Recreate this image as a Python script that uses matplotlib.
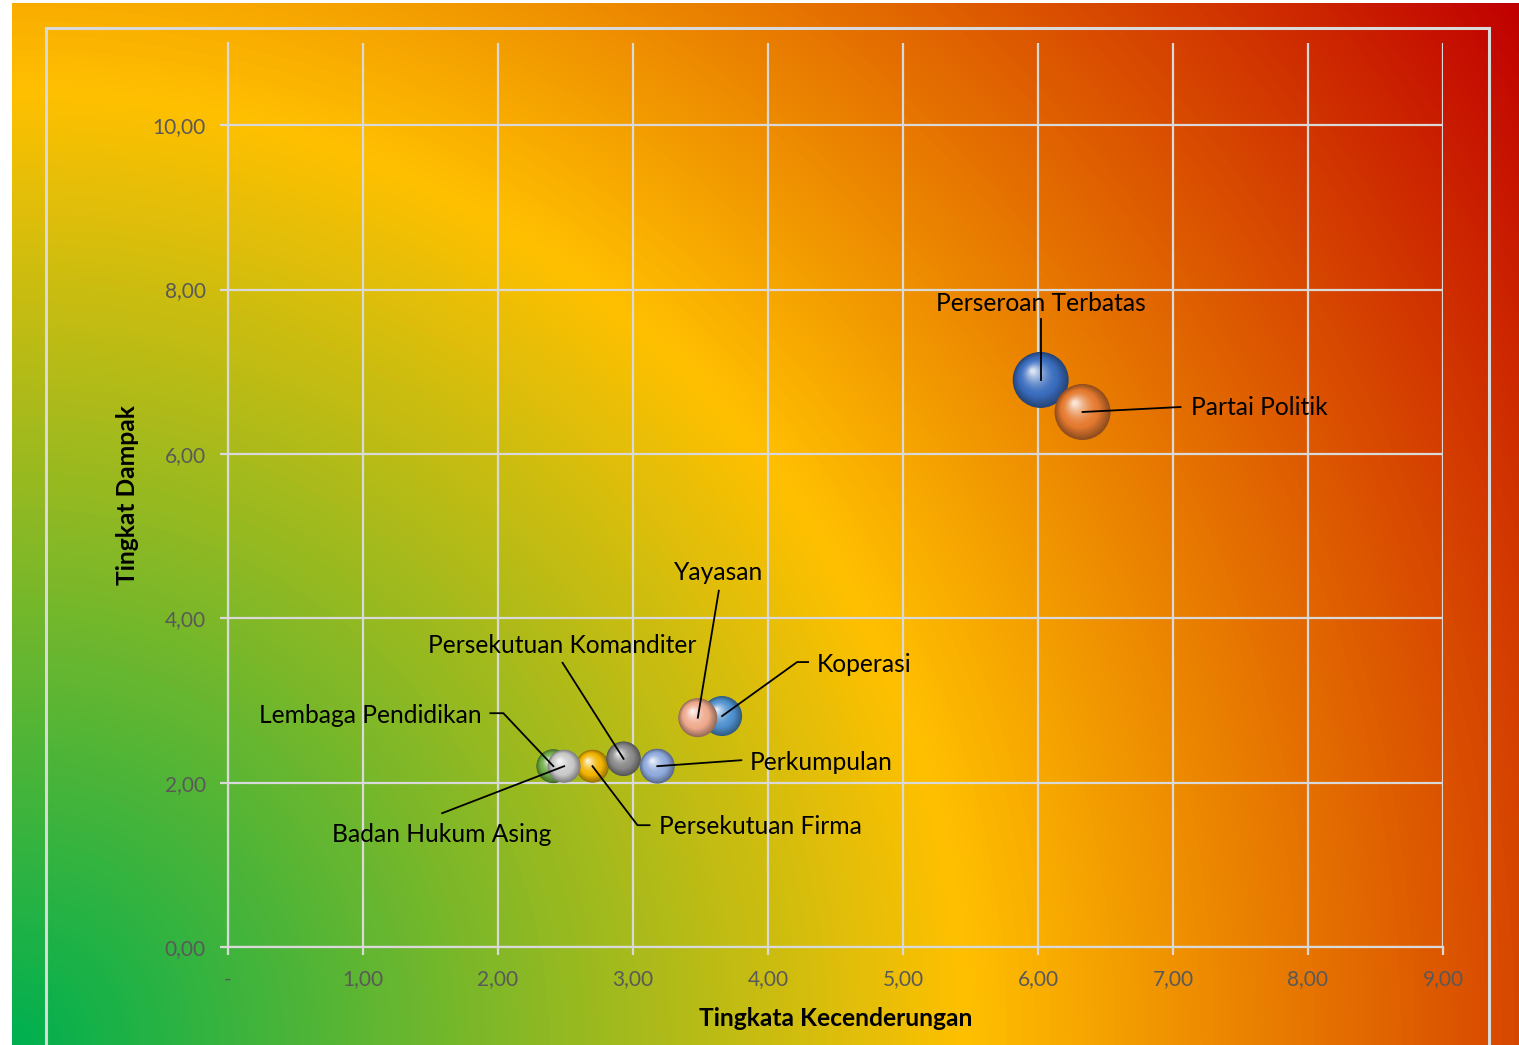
import numpy as np
import matplotlib.pyplot as plt
from matplotlib.colors import to_rgb, LinearSegmentedColormap
from matplotlib.lines import Line2D

# --- DATA ---
badan = ['Perseroan Terbatas', 'Partai Politik', 'Koperasi', 'Yayasan',
         'Lembaga Pendidikan', 'Persekutuan Firma', 'Badan Hukum Asing',
         'Persekutuan Komanditer', 'Perkumpulan']
kecenderungan = [6.02, 6.33, 3.66, 3.48, 2.41, 2.70, 2.49, 2.93, 3.18]
dampak = [6.90, 6.51, 2.81, 2.79, 2.20, 2.20, 2.20, 2.29, 2.20]
ukuran = [19.6, 19.6, 10.0, 9.5, 7.2, 6.8, 6.8, 7.5, 7.6]

x_ticks = [0, 1, 2, 3, 4, 5, 6, 7, 8, 9]
x_ticklabels = ['-', '1,00', '2,00', '3,00', '4,00', '5,00', '6,00', '7,00', '8,00', '9,00']
y_ticks = [0, 2, 4, 6, 8, 10]
y_ticklabels = ['0,00', '2,00', '4,00', '6,00', '8,00', '10,00']

# bubble colours (Excel "vary colours by point")
warna = ['#3B6DBF', '#E57A30', '#4F92CF', '#EFAA8E', '#70AD47',
         '#F2B400', '#C9C9C9', '#8A8A8A', '#8FAADC']

# label layout: text offset in px from bubble centre, alignment, leader path (px)
label_pos = {
    'Perseroan Terbatas': ((0, 76), 'center', [(0, 61), (0, 0)]),
    'Partai Politik': ((108, 4), 'left', [(98, 5), (0, 0)]),
    'Koperasi': ((95, 52), 'left', [(86, 54), (75, 54), (0, 0)]),
    'Yayasan': ((21, 145), 'center', [(21, 127), (0, 0)]),
    'Lembaga Pendidikan': ((-72, 51), 'right', [(-63, 53), (-50, 53), (0, 0)]),
    'Persekutuan Firma': ((66, -60), 'left', [(57, -59), (45, -59), (0, 0)]),
    'Badan Hukum Asing': ((-122, -68), 'center', [(-122, -47), (0, 0)]),
    'Persekutuan Komanditer': ((-61, 113), 'center', [(-61, 96), (0, 0)]),
    'Perkumpulan': ((92, 4), 'left', [(84, 6), (0, 0)]),
}

W, H = 1519, 1045
FONT = ['Lato', 'DejaVu Sans']
plt.rcParams['font.family'] = FONT

fig = plt.figure(figsize=(W / 100, H / 100), dpi=100)
fig.patch.set_facecolor('white')

# --- radial background gradient from bottom-left corner ---
bg = fig.add_axes([12 / W, 0, (W - 12) / W, (H - 3) / H], zorder=0)
bw, bh = W - 12, H - 3
xx, yy = np.meshgrid(np.arange(bw), np.arange(bh)[::-1])
dist = np.sqrt(xx ** 2 + yy ** 2) / np.sqrt(bw ** 2 + bh ** 2)
cmap = LinearSegmentedColormap.from_list(
    'gyr', [(0.0, '#00B050'), (0.52, '#FFC000'), (1.0, '#C00000')])
bg.imshow(dist, cmap=cmap, vmin=0, vmax=1, aspect='auto', interpolation='bilinear')
bg.set_axis_off()

# outer light border (plot-area frame)
for xs, ys in [([46, 46], [28, -10]), ([1489, 1489], [28, -10]), ([46, 1489], [28, 28])]:
    fig.add_artist(Line2D([x / W for x in xs], [1 - y / H if y >= 0 else -0.05 for y in ys],
                          color='#D9D9D9', lw=2.2, zorder=1))

# --- main axes ---
ax = fig.add_axes([228 / W, 1 - 947 / H, (1443 - 228) / W, (947 - 43) / H], zorder=2)
ax.set_facecolor('none')
ax.set_xlim(0, 9)
ax.set_ylim(0, 11)
ax.set_xticks(x_ticks)
ax.set_xticklabels(x_ticklabels)
ax.set_yticks(y_ticks)
ax.set_yticklabels(y_ticklabels)
ax.grid(True, color='#D9D9D9', lw=1.6, zorder=0)
ax.set_axisbelow(True)
for s in ['top', 'right']:
    ax.spines[s].set_visible(False)
for s in ['left', 'bottom']:
    ax.spines[s].set_color('#D9D9D9')
    ax.spines[s].set_linewidth(1.6)
ax.tick_params(length=6, width=1.6, color='#D9D9D9', labelcolor='#595959',
               labelsize=15, pad=10)

ax.set_xlabel('Tingkata Kecenderungan', fontsize=17.7, fontweight='bold', va='center')
ax.xaxis.set_label_coords(0.5, -(1018 - 947) / (947 - 43))
ax.set_ylabel('Tingkat Dampak', fontsize=17.7, fontweight='bold', va='center')
ax.yaxis.set_label_coords(-(228 - 128) / (1443 - 228), 0.5)

to_px = ax.transData
to_data = ax.transData.inverted()


def bola(x, y, r, col):
    # shaded sphere made of stacked circles
    base = np.array(to_rgb(col))
    cx, cy = to_px.transform((x, y))
    n = 40
    for k in range(n):
        t = k / (n - 1)
        rr = r * (1 - 0.92 * t)
        px, py = to_data.transform((cx - 0.28 * r * t, cy + 0.32 * r * t))
        if t < 0.35:
            c = base * (0.62 + 0.38 * t / 0.35)
        else:
            f = ((t - 0.35) / 0.65) ** 1.6
            c = base + (1 - base) * f * 0.8
        ax.scatter(px, py, s=(2 * rr * 0.72) ** 2, color=np.clip(c, 0, 1),
                   edgecolors='none', zorder=3)


for i, nama in enumerate(badan):
    r = 6.32 * np.sqrt(ukuran[i])
    bola(kecenderungan[i], dampak[i], r, warna[i])

for i, nama in enumerate(badan):
    (tx, ty), ha, path = label_pos[nama]
    cx, cy = to_px.transform((kecenderungan[i], dampak[i]))
    pts = np.array([to_data.transform((cx + dx, cy + dy)) for dx, dy in path])
    ax.plot(pts[:, 0], pts[:, 1], color='black', lw=1.3, zorder=5, clip_on=False)
    lx, ly = to_data.transform((cx + tx, cy + ty))
    ax.text(lx, ly, nama, ha=ha, va='center', fontsize=17.7, color='black', zorder=6)

fig.savefig('out.png', dpi=100)
